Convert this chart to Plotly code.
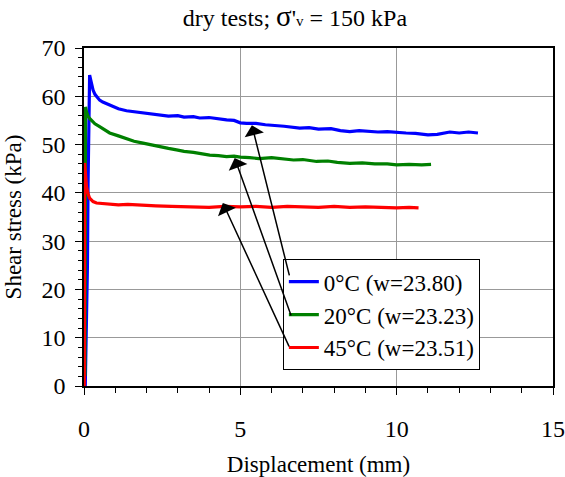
import plotly.graph_objects as go

# ---- data ----
x_0C = [0.04, 0.07, 0.11, 0.13, 0.15, 0.18, 0.21, 0.25, 0.29, 0.35, 0.42, 0.50, 0.60, 0.70, 0.82, 0.95, 1.10,
        1.36, 1.60, 1.89, 2.15, 2.42, 2.70, 3.00, 3.20, 3.50, 3.70, 4.00, 4.30, 4.56, 4.80, 5.00, 5.20,
        5.50, 5.80, 6.10, 6.40, 6.90, 7.20, 7.50, 7.90, 8.20, 8.50, 8.80, 9.10, 9.40, 9.70, 10.00,
        10.30, 10.60, 11.00, 11.30, 11.70, 12.00, 12.30, 12.60]
y_0C = [0.0, 10.0, 25.0, 42.0, 58.0, 64.4, 63.5, 62.2, 61.3, 60.4, 59.8, 59.2, 58.8, 58.5, 58.2, 57.8, 57.4,
        57.0, 56.8, 56.5, 56.3, 56.2, 55.9, 56.0, 55.7, 55.8, 55.5, 55.6, 55.3, 55.1, 55.0, 54.5, 54.4,
        54.4, 54.1, 54.0, 53.8, 53.4, 53.5, 53.2, 53.3, 52.9, 52.7, 52.9, 52.7, 52.6, 52.7, 52.5,
        52.4, 52.3, 52.0, 52.1, 52.6, 52.4, 52.6, 52.4]

x_20C = [0.03, 0.03, 0.05, 0.08, 0.12, 0.18, 0.25, 0.35, 0.50, 0.65, 0.82, 1.10, 1.36, 1.60, 1.89, 2.15,
         2.42, 2.70, 2.96, 3.20, 3.50, 3.70, 4.02, 4.30, 4.56, 4.80, 5.00, 5.30, 5.60, 6.00, 6.36,
         6.70, 7.00, 7.44, 7.80, 8.10, 8.50, 8.90, 9.30, 9.70, 10.00, 10.40, 10.80, 11.10]
y_20C = [2.0, 30.0, 57.8, 56.8, 56.0, 55.4, 54.9, 54.3, 53.7, 53.0, 52.4, 51.8, 51.2, 50.7, 50.3, 49.9,
         49.5, 49.2, 48.9, 48.6, 48.4, 48.2, 47.8, 47.7, 47.5, 47.6, 47.4, 47.3, 47.1, 47.3, 47.0,
         46.8, 46.9, 46.5, 46.6, 46.3, 46.1, 46.2, 46.0, 46.0, 45.8, 45.9, 45.8, 45.9]

x_45C = [0.01, 0.015, 0.02, 0.04, 0.08, 0.12, 0.18, 0.23, 0.29, 0.40, 0.55, 0.82, 1.10, 1.40, 1.89, 2.30,
         2.80, 3.50, 4.00, 4.50, 5.00, 5.50, 6.00, 6.50, 7.00, 7.50, 8.00, 8.50, 9.00, 9.50, 10.00,
         10.40, 10.70]
y_45C = [0.0, 25.0, 46.2, 44.5, 41.3, 40.0, 38.9, 38.5, 38.2, 37.9, 37.8, 37.7, 37.5, 37.6, 37.4, 37.3,
         37.2, 37.1, 37.0, 37.2, 37.1, 37.2, 37.0, 37.2, 37.1, 37.0, 37.2, 37.0, 37.1, 37.0, 36.9,
         37.0, 36.9]

series_names = ["0°C (w=23.80)", "20°C (w=23.23)", "45°C (w=23.51)"]
series_colors = ["#0000FF", "#008000", "#FF0000"]

# arrow heads (on curves) and tails (at legend)
arrow_head_x = [5.37, 4.82, 4.44]
arrow_head_y = [54.0, 47.2, 37.9]
arrow_tail_x = [6.58, 6.64, 6.58]
arrow_tail_y = [22.6, 14.3, 7.9]

x_ticks = [0, 5, 10, 15]
y_ticks = [0, 10, 20, 30, 40, 50, 60, 70]

FONT = "Liberation Serif"

fig = go.Figure()
for i, (xs, ys) in enumerate([(x_0C, y_0C), (x_20C, y_20C), (x_45C, y_45C)]):
    fig.add_trace(go.Scatter(x=xs, y=ys, mode="lines", name=series_names[i],
                             legendgroup=f"g{i}",
                             line=dict(color=series_colors[i], width=3.2)))

for hx, hy, tx, ty in zip(arrow_head_x, arrow_head_y, arrow_tail_x, arrow_tail_y):
    fig.add_annotation(x=hx, y=hy, ax=tx, ay=ty, xref="x", yref="y", axref="x", ayref="y",
                       showarrow=True, arrowhead=1, arrowsize=2.2, arrowwidth=1.5,
                       arrowcolor="black", text="")

fig.update_layout(
    width=565, height=477,
    margin=dict(l=84, r=12, t=48, b=91, autoexpand=False),
    paper_bgcolor="white", plot_bgcolor="white",
    font=dict(family=FONT, size=24, color="black"),
    title=dict(text="dry tests; <span style='font-size:29px'>σ</span>'<span style='font-size:15px'>v</span> = 150 kPa",
               x=0.522, xanchor="center", y=0.963, yanchor="middle",
               font=dict(family=FONT, size=24, color="black")),
    legend=dict(x=0.424, y=0.375, xanchor="left", yanchor="top",
                bgcolor="white", bordercolor="black", borderwidth=1,
                font=dict(family=FONT, size=23, color="black"),
                tracegroupgap=0, itemwidth=30),
    showlegend=True,
)

fig.update_xaxes(range=[0, 15], tickvals=x_ticks, showgrid=True, gridcolor="#999999", gridwidth=1,
                 showline=True, linecolor="black", linewidth=1.5, mirror=True,
                 ticks="outside", ticklen=7, tickcolor="black", tickwidth=1,
                 minor=dict(dtick=1, ticks="outside", ticklen=5, tickcolor="black", showgrid=False),
                 ticklabelstandoff=13, zeroline=False, automargin=False,
                 title=dict(text="Displacement (mm)", font=dict(family=FONT, size=23), standoff=15),
                 tickfont=dict(family=FONT, size=24))
fig.update_yaxes(range=[0, 70], tickvals=y_ticks, showgrid=True, gridcolor="#999999", gridwidth=1,
                 showline=True, linecolor="black", linewidth=1.5, mirror=True,
                 ticks="outside", ticklen=7, tickcolor="black", tickwidth=1,
                 minor=dict(dtick=2, ticks="outside", ticklen=4, tickcolor="black", showgrid=False),
                 ticklabelstandoff=5, zeroline=False, automargin=False,
                 title=dict(text="Shear stress (kPa)", font=dict(family=FONT, size=23), standoff=13),
                 tickfont=dict(family=FONT, size=24))

fig.write_html("out.html", config={"displayModeBar": False},
               post_script="document.body.style.margin='0';document.body.style.overflow='hidden';")
